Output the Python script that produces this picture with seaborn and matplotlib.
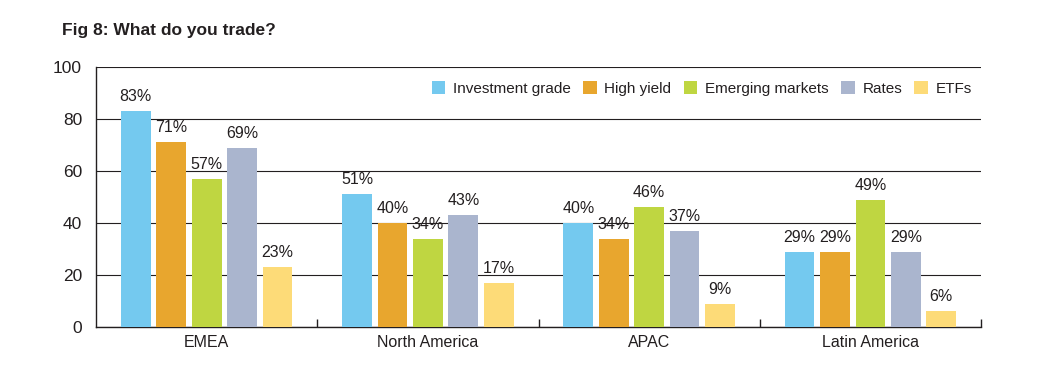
import matplotlib
matplotlib.use("Agg")
import matplotlib.pyplot as plt
import pandas as pd
import seaborn as sns

regions = ["EMEA", "North America", "APAC", "Latin America"]
series = ["Investment grade", "High yield", "Emerging markets", "Rates", "ETFs"]
investment_grade = [83, 51, 40, 29]
high_yield = [71, 40, 34, 29]
emerging_markets = [57, 34, 46, 49]
rates = [69, 43, 37, 29]
etfs = [23, 17, 9, 6]
colors = ["#74C9EF", "#E8A62E", "#BFD641", "#AAB5CE", "#FDDB78"]

values = [investment_grade, high_yield, emerging_markets, rates, etfs]
df = pd.DataFrame(
    [(r, s, v[i]) for s, v in zip(series, values) for i, r in enumerate(regions)],
    columns=["region", "series", "value"],
)


def main():
    sns.set_style("white")
    plt.rcParams["font.family"] = ["Liberation Sans", "DejaVu Sans"]

    fig = plt.figure(figsize=(10.47, 3.8), dpi=100)
    ax = fig.add_axes([0.0917, 0.1395, 0.8453, 0.6842])

    sns.barplot(data=df, x="region", y="value", hue="series", hue_order=series,
                order=regions, palette=colors, width=0.8, gap=0.16,
                saturation=1, linewidth=0, ax=ax, zorder=3)

    for cont in ax.containers:
        ax.bar_label(cont, fmt="%d%%", padding=5, fontsize=11.5, color="#231f20")

    ax.set_ylim(0, 100)
    ax.set_xlim(-0.5, 3.5)
    ax.set_yticks(range(0, 101, 20))
    ax.yaxis.grid(True, color="#231f20", linewidth=0.8, zorder=0)
    ax.set_axisbelow(True)
    ax.set_xlabel("")
    ax.set_ylabel("")
    for s in ["top", "right"]:
        ax.spines[s].set_visible(False)
    for s in ["left", "bottom"]:
        ax.spines[s].set_color("#231f20")
        ax.spines[s].set_linewidth(1.0)

    ax.tick_params(axis="y", length=0, labelsize=12.5, colors="#231f20", pad=10)
    ax.tick_params(axis="x", length=0, labelsize=11.5, colors="#231f20", pad=6)
    ax.set_xticks([0.5, 1.5, 2.5, 3.5], minor=True)
    ax.tick_params(axis="x", which="minor", bottom=True, direction="in", length=6,
                   width=1.0, color="#231f20")

    ax.legend(ncol=5, loc="upper right", bbox_to_anchor=(1.0, 0.98), frameon=False,
              fontsize=11, handlelength=0.9, handleheight=0.9, handletextpad=0.5,
              columnspacing=0.8, borderaxespad=0.2, labelcolor="#231f20")

    fig.text(0.059, 0.92, "Fig 8: What do you trade?", fontsize=12.5,
             fontweight="bold", color="#231f20", va="center")

    fig.savefig("out.png", dpi=100)


if __name__ == "__main__":
    main()
